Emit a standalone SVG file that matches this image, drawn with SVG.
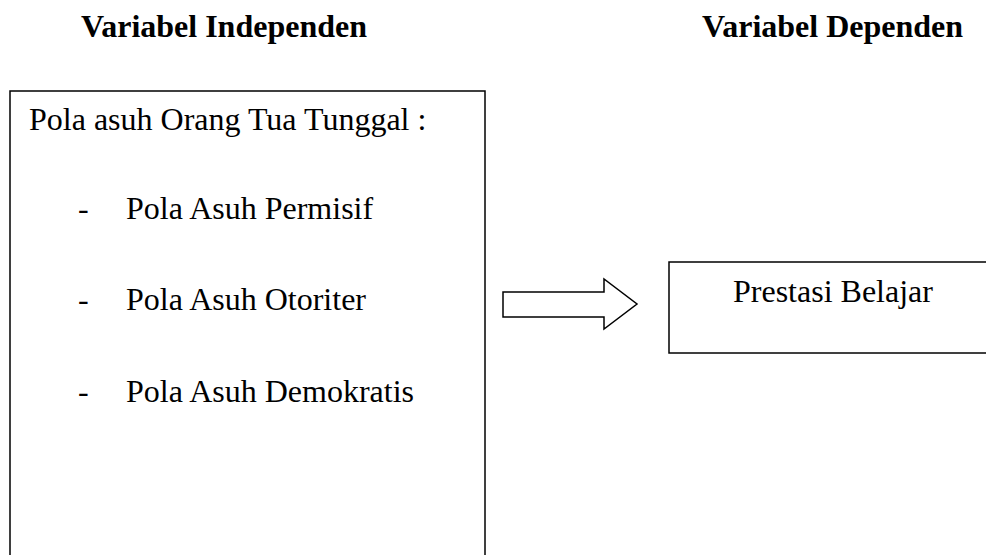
<svg xmlns="http://www.w3.org/2000/svg" width="986" height="555" viewBox="0 0 986 555">
<style>
.box{fill:#fff;stroke:#000;stroke-width:1.5}
.t{font-family:"Liberation Serif","Times New Roman",serif;font-size:32px;fill:#000}
.h{font-family:"Liberation Serif","Times New Roman",serif;font-size:32px;font-weight:bold;fill:#000}
</style>
<rect width="986" height="555" fill="#fff"/>
<g id="title-independen"><text class="h" x="81" y="37">Variabel Independen</text></g>
<g id="title-dependen"><text class="h" x="702" y="37">Variabel Dependen</text></g>
<g id="node-independen">
<rect class="box" x="10" y="91" width="475" height="480"/>
<text class="t" x="29" y="130">Pola asuh Orang Tua Tunggal :</text>
<text class="t" x="78" y="219">-</text><text class="t" x="126" y="219">Pola Asuh Permisif</text>
<text class="t" x="78" y="310">-</text><text class="t" x="126" y="310">Pola Asuh Otoriter</text>
<text class="t" x="78" y="402">-</text><text class="t" x="126" y="402">Pola Asuh Demokratis</text>
</g>
<g id="node-dependen">
<rect class="box" x="669" y="262" width="340" height="91"/>
<text class="t" x="733" y="302">Prestasi Belajar</text>
</g>
<g id="connectors">
<polygon class="box" points="503,292 604,292 604,279 637,304 604,329 604,317 503,317"/>
</g>
</svg>
